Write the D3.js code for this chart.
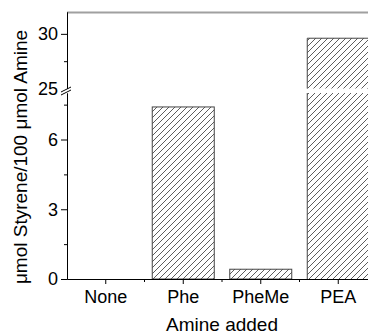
<!DOCTYPE html>
<html>
<head>
<meta charset="utf-8">
<script src="https://cdn.jsdelivr.net/npm/d3@7"></script>
<style>
  body { margin: 0; background: #fff; }
  svg { display: block; font-family: "Liberation Sans", Arial, Helvetica, sans-serif; }
  .axis text { font-size: 18px; fill: #000; }
  .axis path, .axis line { stroke: #000; }
</style>
</head>
<body>
<script>
var categories = ["None", "Phe", "PheMe", "PEA"];
var values = [0, 7.4, 0.42, 29.6];
var lowTicks = [0, 3, 6];
var lowMinor = [1.5, 4.5, 7.5];
var highTicks = [25, 30];
var highMinor = [27.5];

var width = 368, height = 335;
var plotLeft = 67, plotTop = 12, plotBottom = 279, breakLow = 93, breakHigh = 88.5;

var svg = d3.select("body").append("svg")
    .attr("width", width)
    .attr("height", height);

var defs = svg.append("defs");
defs.append("pattern")
    .attr("id", "hatch")
    .attr("patternUnits", "userSpaceOnUse")
    .attr("width", 6)
    .attr("height", 6)
  .append("path")
    .attr("d", "M0,6 L6,0 M-1,1 L1,-1 M5,7 L7,5")
    .attr("stroke", "#333")
    .attr("stroke-width", 0.8);

var x = d3.scaleBand()
    .domain(categories)
    .range([plotLeft, plotLeft + 310])
    .paddingInner(0.2)
    .paddingOuter(0.1);

var yLow = d3.scaleLinear().domain([0, 8]).range([plotBottom, breakLow]);
var yHigh = d3.scaleLinear().domain([25, 32]).range([breakHigh, plotTop]);

// bars (broken where value goes past the lower segment)
categories.forEach(function(c, i) {
  var v = values[i];
  if (v <= 0) return;
  var x0 = x(c), w = x.bandwidth();
  if (v <= 8) {
    svg.append("rect")
        .attr("x", x0).attr("y", yLow(v))
        .attr("width", w).attr("height", yLow(0) - yLow(v))
        .attr("fill", "url(#hatch)")
        .attr("stroke", "#444").attr("stroke-width", 1);
  } else {
    // lower piece, no top edge
    svg.append("rect")
        .attr("x", x0).attr("y", yLow(8))
        .attr("width", w).attr("height", yLow(0) - yLow(8))
        .attr("fill", "url(#hatch)");
    svg.append("path")
        .attr("d", "M" + x0 + "," + yLow(8) + "V" + yLow(0) + "M" + (x0 + w) + "," + yLow(8) + "V" + yLow(0))
        .attr("stroke", "#444").attr("fill", "none");
    // upper piece, no bottom edge
    svg.append("rect")
        .attr("x", x0).attr("y", yHigh(v))
        .attr("width", w).attr("height", yHigh(25) - yHigh(v))
        .attr("fill", "url(#hatch)");
    svg.append("path")
        .attr("d", "M" + x0 + "," + yHigh(25) + "V" + yHigh(v) + "H" + (x0 + w) + "V" + yHigh(25))
        .attr("stroke", "#444").attr("fill", "none");
  }
});

// top frame line
svg.append("line")
    .attr("x1", plotLeft).attr("x2", width)
    .attr("y1", plotTop + 0.5).attr("y2", plotTop + 0.5)
    .attr("stroke", "#a0a0a0").attr("stroke-width", 2);

// left axis, lower segment
svg.append("g")
    .attr("class", "axis")
    .attr("transform", "translate(" + plotLeft + ",0)")
    .call(d3.axisLeft(yLow).tickValues(lowTicks).tickSize(6).tickSizeOuter(0).tickPadding(3).tickFormat(d3.format("d")));
svg.append("g")
    .attr("class", "axis")
    .attr("transform", "translate(" + plotLeft + ",0)")
    .call(d3.axisLeft(yLow).tickValues(lowMinor).tickSize(3).tickSizeOuter(0).tickFormat(""));

// left axis, upper segment
var gHigh = svg.append("g")
    .attr("class", "axis")
    .attr("transform", "translate(" + plotLeft + ",0)")
    .call(d3.axisLeft(yHigh).tickValues(highTicks).tickSize(6).tickSizeOuter(0).tickPadding(3).tickFormat(d3.format("d")));
gHigh.selectAll(".tick line").filter(function(d) { return d === 25; }).remove();
svg.append("g")
    .attr("class", "axis")
    .attr("transform", "translate(" + plotLeft + ",0)")
    .call(d3.axisLeft(yHigh).tickValues(highMinor).tickSize(3).tickSizeOuter(0).tickFormat(""));

// break marks
svg.append("path")
    .attr("d", "M61,92 L71,87 M61,95 L71,90")
    .attr("stroke", "#000").attr("stroke-width", 1).attr("fill", "none");

// bottom axis
var gx = svg.append("g")
    .attr("class", "axis")
    .attr("transform", "translate(0," + plotBottom + ")")
    .call(d3.axisBottom(x).tickSize(5).tickSizeOuter(0).tickPadding(4));
gx.selectAll("text").attr("dy", "0.85em");
gx.selectAll(".minor")
    .data(categories.slice(1))
  .enter().append("line")
    .attr("class", "minor")
    .attr("x1", function(d) { return x(d) - x.step() * x.paddingInner() / 2; })
    .attr("x2", function(d) { return x(d) - x.step() * x.paddingInner() / 2; })
    .attr("y1", 0).attr("y2", 3)
    .attr("stroke", "#000");

// axis titles
svg.append("text")
    .attr("x", x(categories[1]) + x.bandwidth() + x.step() * 0.1)
    .attr("y", 331)
    .attr("text-anchor", "middle")
    .style("font-size", "19px")
    .text("Amine added");

svg.append("text")
    .attr("transform", "translate(27,157) rotate(-90)")
    .attr("text-anchor", "middle")
    .style("font-size", "19px")
    .text("\u03bcmol Styrene/100 \u03bcmol Amine");
</script>
</body>
</html>
